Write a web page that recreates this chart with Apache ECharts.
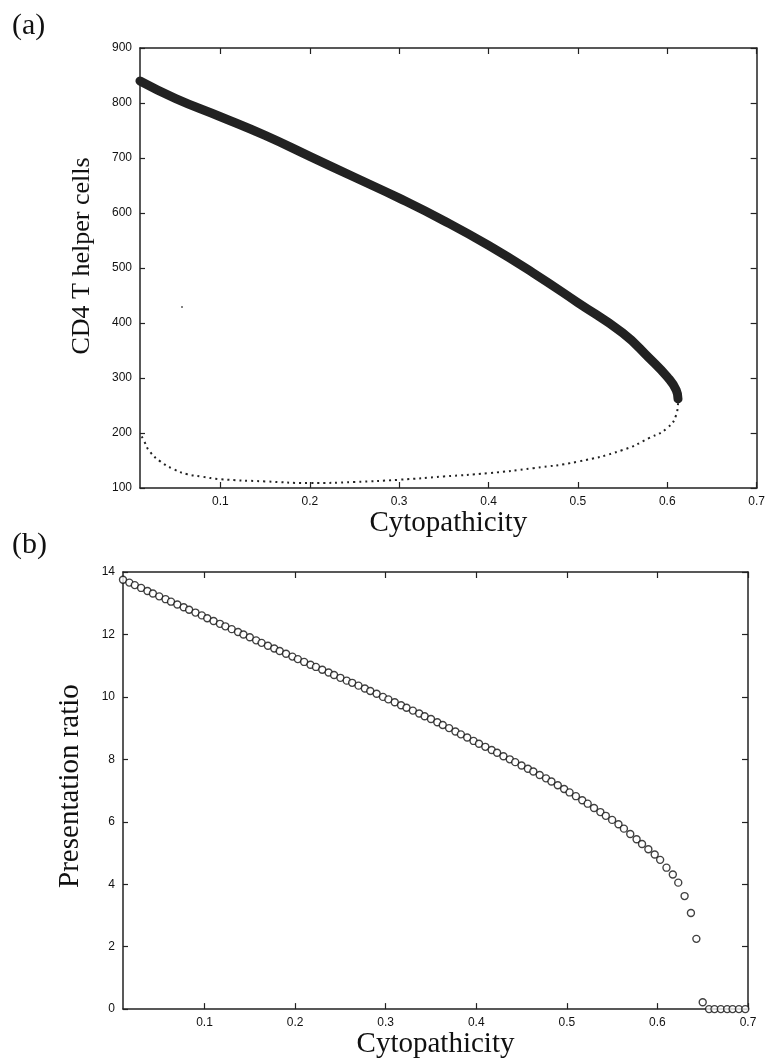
<!DOCTYPE html>
<html>
<head>
<meta charset="utf-8">
<script src="https://cdn.jsdelivr.net/npm/echarts@6.0.0/dist/echarts.min.js"></script>
<style>
html,body{margin:0;padding:0;background:#fff;}
#chart{width:768px;height:1060px;}
</style>
</head>
<body>
<div id="chart"></div>
<script>
// ---------- Panel (a): CD4 T helper cells vs Cytopathicity ----------
const upperX = [0.01,0.05,0.1,0.15,0.2,0.25,0.3,0.35,0.4,0.45,0.5,0.55,0.58,0.6,0.61,0.612];
const upperY = [840,808,775,741,703,665,627,586,541,491,437,382,336,302,278,262];
const lowerX = [0.612,0.61,0.6,0.58,0.55,0.5,0.45,0.4,0.35,0.3,0.25,0.2,0.15,0.1,0.078,0.063,0.048,0.033,0.021,0.015,0.01];
const lowerY = [254,233,209,191,169,148,136,127,121,115,111,109,112,116,121,125,134,148,166,184,200];
const strayX = [0.057];
const strayY = [429];
const aXTicks = [0.1,0.2,0.3,0.4,0.5,0.6,0.7];

// ---------- Panel (b): Presentation ratio vs Cytopathicity ----------
const presX = [
0.010,0.017,0.023,0.030,0.037,0.043,0.050,0.057,0.063,0.070,
0.077,0.083,0.090,0.097,0.103,0.110,0.117,0.123,0.130,0.137,
0.143,0.150,0.157,0.163,0.170,0.177,0.183,0.190,0.197,0.203,
0.210,0.217,0.223,0.230,0.237,0.243,0.250,0.257,0.263,0.270,
0.277,0.283,0.290,0.297,0.303,0.310,0.317,0.323,0.330,0.337,
0.343,0.350,0.357,0.363,0.370,0.377,0.383,0.390,0.397,0.403,
0.410,0.417,0.423,0.430,0.437,0.443,0.450,0.457,0.463,0.470,
0.477,0.483,0.490,0.497,0.503,0.510,0.517,0.523,0.530,0.537,
0.543,0.550,0.557,0.563,0.570,0.577,0.583,0.590,0.597,0.603,
0.610,0.617,0.623,0.630,0.637,0.643,0.650,0.657,0.663,0.670,
0.677,0.683,0.690,0.697];
const presY = [
13.75,13.66,13.58,13.49,13.39,13.31,13.22,13.13,13.05,12.96,
12.87,12.79,12.70,12.61,12.52,12.43,12.34,12.26,12.17,12.08,
12.00,11.91,11.81,11.73,11.64,11.55,11.47,11.38,11.29,11.21,
11.12,11.03,10.96,10.87,10.78,10.70,10.61,10.52,10.45,10.36,
10.27,10.19,10.10,10.00,9.92,9.83,9.73,9.65,9.56,9.47,
9.38,9.29,9.19,9.10,9.00,8.89,8.80,8.70,8.59,8.50,
8.40,8.30,8.21,8.10,8.00,7.91,7.80,7.70,7.61,7.50,
7.39,7.29,7.17,7.05,6.94,6.82,6.69,6.58,6.44,6.31,
6.19,6.06,5.92,5.78,5.61,5.44,5.29,5.12,4.95,4.78,
4.53,4.31,4.05,3.62,3.08,2.25,0.22,0,0,0,
0,0,0,0];
const bXTicks = [0.1,0.2,0.3,0.4,0.5,0.6,0.7];

const zip = (xs, ys) => xs.map((x, i) => [x, ys[i]]);

const SERIF = "'Liberation Serif','DejaVu Serif',serif";
const SANS = "'Liberation Sans',Arial,sans-serif";
const INK = '#111';
const axisLine = {show: true, onZero: false, lineStyle: {color: '#222', width: 1.5}};
const labelStyle = {color: INK, fontSize: 12, fontFamily: SANS};

function xAxes(gridIndex, ticks, nameGap) {
  return [
    {
      gridIndex, type: 'value', position: 'bottom', min: 0.01, max: 0.7,
      axisLine,
      axisTick: {show: true, inside: true, length: 6, customValues: ticks, lineStyle: {color: '#222', width: 1.2}},
      axisLabel: Object.assign({customValues: ticks, margin: 8, formatter: v => v.toFixed(1)}, labelStyle),
      splitLine: {show: false},
      name: 'Cytopathicity', nameLocation: 'middle', nameGap,
      nameTextStyle: {fontFamily: SERIF, fontSize: 29, color: INK}
    },
    {
      gridIndex, type: 'value', position: 'top', min: 0.01, max: 0.7,
      axisLine,
      axisTick: {show: true, inside: true, length: 6, customValues: ticks, lineStyle: {color: '#222', width: 1.2}},
      axisLabel: {show: false}, splitLine: {show: false}
    }
  ];
}
function yAxes(gridIndex, min, max, interval, name, nameGap, fontSize, pad) {
  return [
    {
      gridIndex, type: 'value', position: 'left', min, max, interval,
      axisLine,
      axisTick: {show: true, inside: true, length: 5, lineStyle: {color: '#222', width: 1.2}},
      axisLabel: Object.assign({margin: 8}, labelStyle),
      splitLine: {show: false},
      name, nameLocation: 'middle', nameGap,
      nameTextStyle: {fontFamily: SERIF, fontSize, color: INK, padding: pad}
    },
    {
      gridIndex, type: 'value', position: 'right', min, max, interval,
      axisLine,
      axisTick: {show: true, inside: true, length: 6, lineStyle: {color: '#222', width: 1.2}},
      axisLabel: {show: false}, splitLine: {show: false}
    }
  ];
}

const chart = echarts.init(document.getElementById('chart'), null, {renderer: 'canvas'});
chart.setOption({
  animation: false,
  backgroundColor: '#fff',
  title: [
    {text: '(a)', left: 12, top: 11, padding: 0, textStyle: {fontFamily: SERIF, fontSize: 30, fontWeight: 'normal', color: INK}},
    {text: '(b)', left: 12, top: 530, padding: 0, textStyle: {fontFamily: SERIF, fontSize: 30, fontWeight: 'normal', color: INK}}
  ],
  grid: [
    {left: 140, right: 10, top: 48, height: 440, containLabel: false},
    {left: 123, right: 20, top: 572, height: 440, containLabel: false}
  ],
  xAxis: [].concat(xAxes(0, aXTicks, 7), xAxes(1, bXTicks, 9)),
  yAxis: [].concat(
    yAxes(0, 100, 900, 100, 'CD4 T helper cells', 45, 26, [0, 0, 0, 24]),
    yAxes(1, 0, 14, 2, 'Presentation ratio', 38, 29, [0, 0, 0, 9])
  ),
  series: [
    {
      name: 'upper', type: 'line', xAxisIndex: 0, yAxisIndex: 0,
      data: zip(upperX, upperY), smooth: true, showSymbol: false,
      lineStyle: {color: '#222', width: 9, cap: 'round'}
    },
    {
      name: 'lower', type: 'line', xAxisIndex: 0, yAxisIndex: 0,
      data: zip(lowerX, lowerY), smooth: true, showSymbol: false,
      lineStyle: {color: '#222', width: 2, type: [2, 4]}
    },
    {
      name: 'stray', type: 'scatter', xAxisIndex: 0, yAxisIndex: 0,
      data: zip(strayX, strayY), symbolSize: 2, itemStyle: {color: '#333'}
    },
    {
      name: 'presentation', type: 'scatter', xAxisIndex: 2, yAxisIndex: 2,
      data: zip(presX, presY), symbol: 'circle', symbolSize: 7,
      itemStyle: {color: '#fff', borderColor: '#111', borderWidth: 1.4}
    }
  ]
});
</script>
</body>
</html>
